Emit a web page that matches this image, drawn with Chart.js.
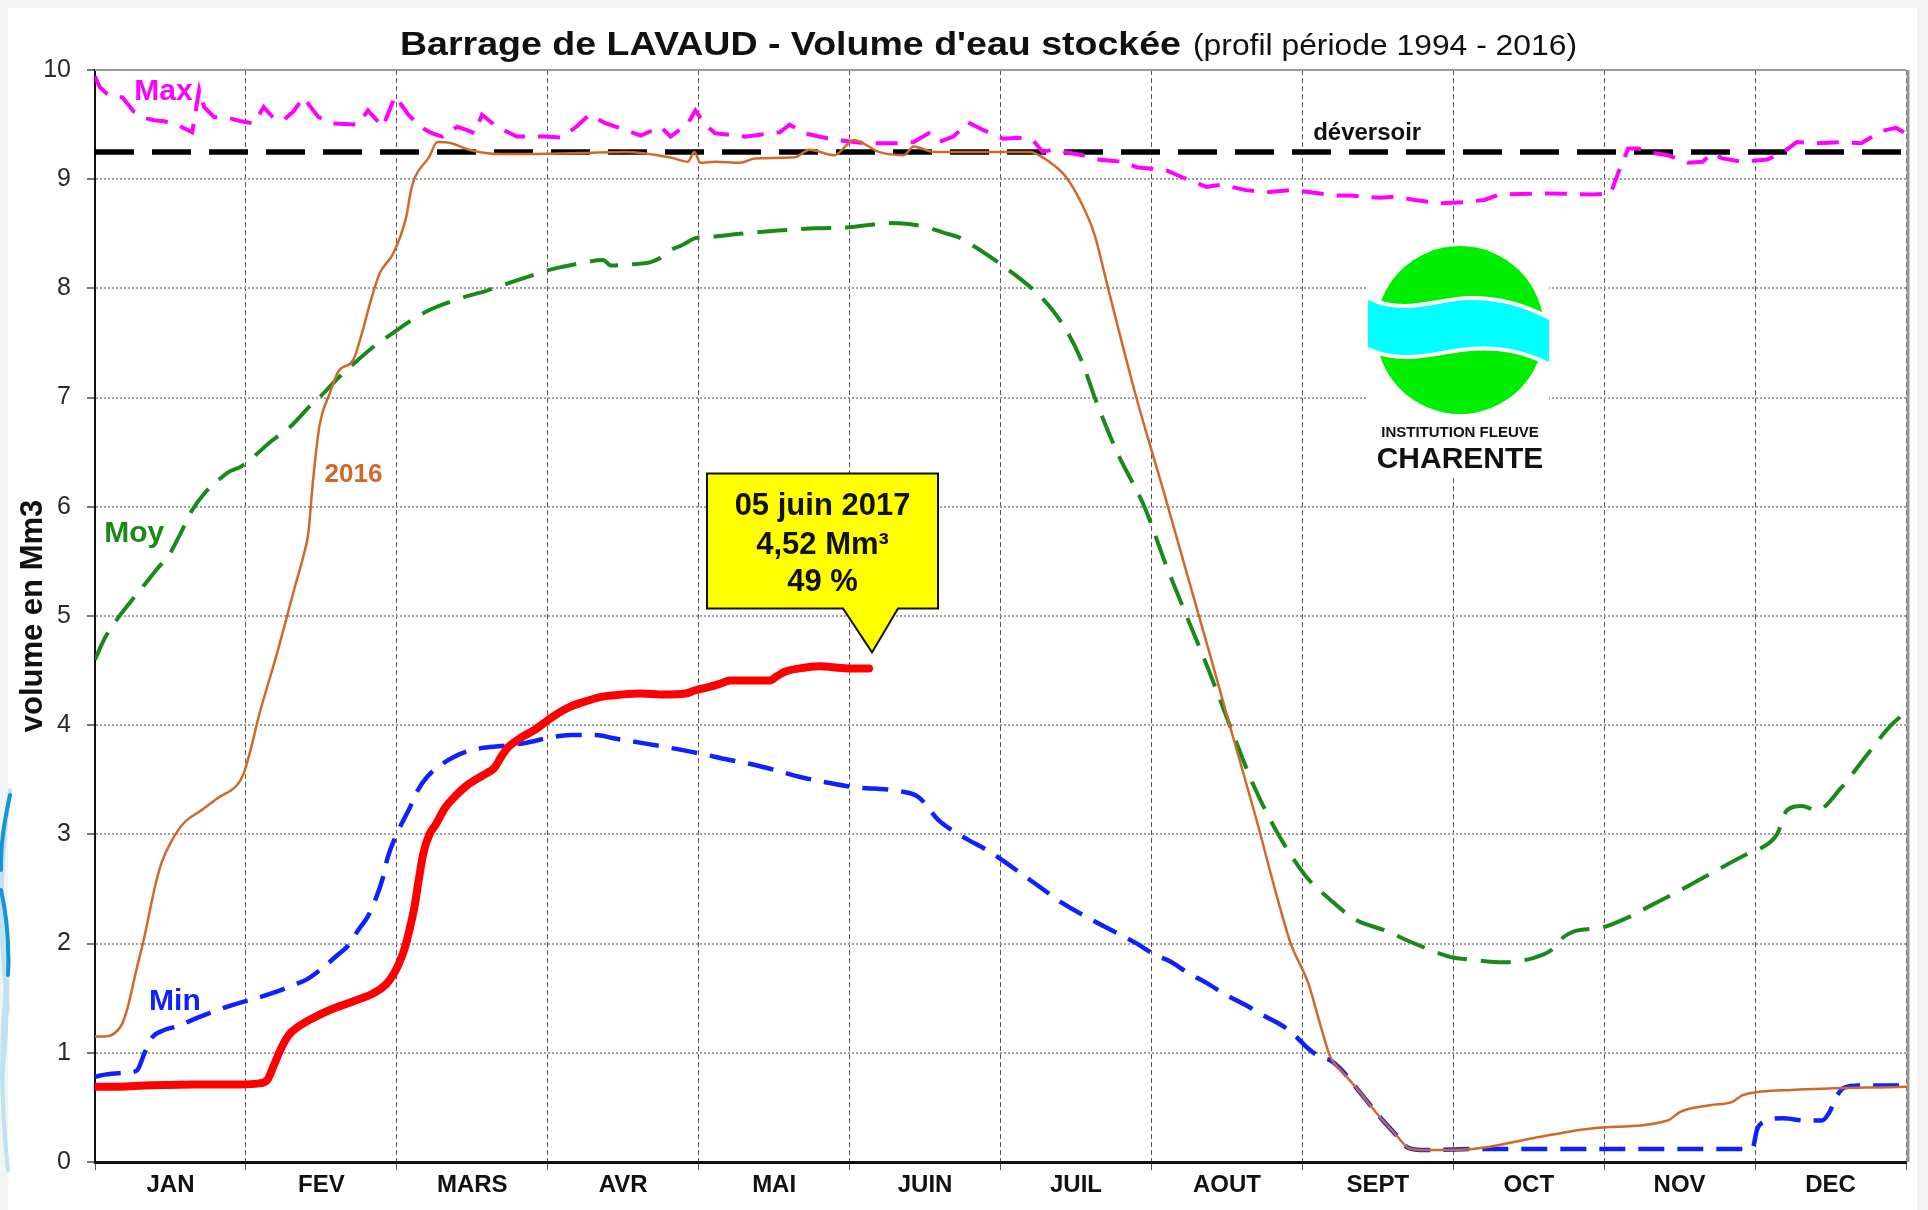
<!DOCTYPE html>
<html lang="fr">
<head>
<meta charset="utf-8">
<title>Barrage de LAVAUD - Volume d'eau stockée</title>
<script src="https://cdn.jsdelivr.net/npm/chart.js@4.4.1/dist/chart.umd.min.js"></script>
<style>
  html, body { margin: 0; padding: 0; background: #f3f3f3; }
  canvas { display: block; }
</style>
</head>
<body>
<canvas id="volumeChart" width="1928" height="1210"></canvas>
<script>
// x = position in the year (0..365, months of equal width), y = volume in Mm3
const months = ['JAN', 'FEV', 'MARS', 'AVR', 'MAI', 'JUIN', 'JUIL', 'AOUT', 'SEPT', 'OCT', 'NOV', 'DEC'];
const yTicks = [0, 1, 2, 3, 4, 5, 6, 7, 8, 9, 10];
const deversoir = 9.25;

const maxProfile = [[0,9.94],[1,9.84],[2.5,9.78],[4,9.75],[5.5,9.75],[7.8,9.62],[10,9.56],[12,9.54],[14,9.53],[16.5,9.5],
  [19.6,9.43],[21,9.82],[22,9.66],[24,9.57],[27,9.56],[29.5,9.53],[32,9.51],[34,9.66],[36,9.56],[38,9.54],
  [40,9.62],[42,9.75],[45,9.57],[48,9.51],[53,9.5],[55,9.63],[58,9.48],[60.5,9.76],[63,9.6],[65.5,9.48],
  [68,9.42],[70,9.39],[73,9.48],[75,9.45],[76.5,9.42],[78,9.59],[81,9.48],[85,9.39],[91,9.39],[94,9.38],
  [97,9.48],[99.6,9.59],[103,9.51],[107,9.45],[110,9.4],[114,9.48],[116,9.39],[119.5,9.51],[121,9.63],[123,9.5],
  [125,9.42],[131,9.39],[138,9.43],[140,9.5],[143,9.42],[149,9.36],[155,9.33],[162,9.33],[165,9.34],[168,9.42],
  [170,9.34],[173,9.39],[176,9.52],[179,9.45],[183,9.37],[186,9.38],[189,9.36],[191,9.25],[193,9.27],[199,9.22],
  [202,9.18],[207,9.16],[210,9.11],[216,9.08],[219,9.02],[224,8.93],[227,8.95],[232,8.9],[236,8.88],[241,8.9],
  [245,8.88],[250,8.85],[253,8.85],[259,8.83],[262,8.84],[266,8.81],[271,8.78],[276,8.79],[280,8.81],[283,8.86],
  [293,8.87],[302,8.86],[305.5,8.87],[307,9.06],[309,9.28],[311,9.28],[314,9.24],[317,9.22],[321,9.15],[324,9.16],
  [326,9.24],[328,9.19],[332,9.16],[337,9.18],[340,9.24],[343,9.34],[347,9.33],[352,9.34],[356,9.33],[360,9.44],
  [363,9.47],[365,9.42]];

const moyProfile = [[0,4.6],[2,4.8],[4.3,4.96],[7,5.12],[9.7,5.27],[12.5,5.43],[15.2,5.58],[17.5,5.78],[19.6,5.97],[22,6.12],
  [25,6.25],[27,6.32],[29.5,6.37],[32,6.46],[35.5,6.6],[39.3,6.73],[43.9,6.95],[45.2,7.0],[49,7.18],[52.9,7.34],
  [56.5,7.48],[60,7.59],[63.5,7.7],[67.3,7.8],[70.5,7.86],[74.4,7.92],[79,7.98],[83.5,8.05],[87.5,8.11],[91.6,8.17],
  [94.5,8.2],[97.8,8.23],[102.4,8.26],[104,8.21],[108,8.22],[112,8.24],[114,8.28],[116,8.35],[118.5,8.4],[121,8.46],
  [123.5,8.47],[130,8.5],[137.7,8.53],[145,8.55],[152,8.56],[156,8.58],[160,8.6],[164,8.59],[167.7,8.56],[171,8.51],
  [174,8.47],[177,8.39],[180.4,8.29],[183.5,8.19],[186.7,8.08],[190,7.95],[193,7.8],[196,7.6],[199,7.32],[201.5,7.0],
  [206,6.5],[211.5,6.0],[216,5.45],[220,5.0],[224.5,4.5],[228.7,4.0],[233.5,3.45],[238.5,3.0],[244,2.62],[249,2.4],
  [254,2.22],[260,2.12],[266,2.0],[273,1.88],[278,1.85],[284,1.83],[290,1.87],[293.5,1.94],[296,2.06],[298,2.11],
  [304,2.15],[309,2.24],[313.6,2.35],[320,2.5],[326,2.65],[333,2.82],[336,2.88],[339,3.0],[341,3.22],[344,3.26],
  [347,3.22],[352,3.43],[357,3.72],[362,4.0],[365,4.12]];

const minProfile = [[0,0.78],[2,0.8],[6.6,0.82],[8.5,0.84],[10,1.0],[11.7,1.15],[13.5,1.2],[17,1.25],[20.6,1.32],[24.6,1.39],
  [29.3,1.46],[31,1.48],[36,1.55],[40,1.62],[42.6,1.67],[45.4,1.76],[49,1.9],[51,1.98],[53,2.12],[55,2.25],
  [56.5,2.4],[58,2.6],[59,2.79],[61.2,3.04],[63.5,3.25],[65,3.4],[67,3.53],[69.5,3.63],[72.4,3.71],[75,3.76],
  [77.8,3.79],[82,3.81],[87,3.84],[91,3.88],[95.8,3.91],[101,3.91],[104.5,3.88],[108.5,3.85],[115,3.8],[122,3.74],
  [127,3.69],[132.6,3.64],[137,3.59],[141.7,3.53],[147,3.48],[153.4,3.43],[157,3.42],[161.5,3.4],[166,3.34],[170,3.13],
  [173,3.03],[176,2.95],[180,2.85],[183,2.76],[187,2.63],[191,2.5],[195,2.37],[200,2.24],[205,2.12],[210,2.0],
  [213.5,1.9],[217,1.83],[220,1.74],[224,1.64],[228,1.53],[232.6,1.42],[236,1.33],[239.6,1.24],[242,1.15],[244.5,1.04],
  [247,0.96],[249,0.93],[251.5,0.83],[254,0.69],[256.5,0.55],[259,0.41],[262,0.26],[264.7,0.13],[268,0.11],[280,0.12],
  [300,0.12],[320,0.12],[334,0.12],[335,0.3],[336,0.36],[340,0.4],[345,0.38],[348,0.38],[349.5,0.45],[351,0.6],
  [352.5,0.68],[356,0.7],[365,0.7]];

const year2016 = [[0,1.15],[2,1.15],[5.3,1.25],[6.5,1.4],[7.3,1.55],[8.5,1.79],[9.8,2.03],[11.5,2.4],[12.4,2.58],[13.5,2.75],
  [15.2,2.92],[17.8,3.1],[21.4,3.22],[25,3.34],[28.6,3.45],[29.9,3.55],[31.5,3.8],[33,4.08],[36.7,4.66],[40.3,5.27],
  [42,5.55],[43,5.76],[43.9,6.22],[45.2,6.73],[47.4,7.05],[49.2,7.25],[52,7.34],[53.8,7.59],[55.6,7.89],[57.4,8.14],
  [60.1,8.32],[62.7,8.65],[63.7,8.9],[64.5,9.02],[67.3,9.2],[69,9.34],[71.8,9.33],[75.4,9.27],[81.7,9.23],[97.8,9.24],
  [106.8,9.25],[115.9,9.2],[119.5,9.16],[120.8,9.25],[122,9.15],[125,9.16],[130,9.15],[133,9.19],[141,9.2],[144,9.27],
  [149,9.22],[153,9.36],[158,9.25],[163,9.22],[165,9.3],[169,9.25],[179,9.25],[188.5,9.25],[191,9.2],[193.5,9.12],
  [195.7,9.02],[198.6,8.8],[201.4,8.5],[204.3,7.98],[210,6.98],[215,6.2],[220,5.4],[225,4.6],[229,3.95],[234,3.15],
  [238.4,2.4],[241,2.0],[244.5,1.64],[247,1.25],[249,0.96],[251.5,0.82],[254,0.69],[259,0.41],[262,0.26],[264.7,0.13],
  [268,0.11],[277.8,0.12],[290,0.22],[302,0.31],[317,0.38],[319.5,0.46],[325.5,0.52],[330,0.55],[332,0.61],[335,0.64],
  [342,0.66],[365,0.69]];

const year2017 = [[0,0.69],[5,0.69],[10,0.7],[20,0.71],[29.3,0.71],[33,0.72],[34.7,0.75],[36,0.88],[37.4,1.03],[39,1.16],
  [41,1.24],[44,1.32],[47.2,1.39],[52,1.47],[56.3,1.55],[58.5,1.62],[59.9,1.7],[61.3,1.82],[62.5,1.97],[63.5,2.15],
  [64.4,2.34],[65.3,2.6],[66.2,2.83],[67.4,3.0],[68.8,3.1],[70.5,3.24],[72.4,3.34],[75,3.45],[77.8,3.53],[79.3,3.57],
  [80.5,3.61],[82,3.72],[83.3,3.8],[86,3.89],[88.7,3.96],[92,4.07],[95.8,4.17],[99,4.22],[102,4.26],[106,4.28],
  [110,4.29],[114.7,4.28],[119,4.29],[121,4.32],[123.8,4.35],[126,4.38],[128,4.41],[136,4.41],[137.5,4.45],[139,4.49],
  [142,4.52],[146,4.54],[151.6,4.52],[156,4.52]];

const lastDate = '05 juin 2017';

// series names placed on the plot, in data units
const seriesLabels = [
  { text: 'Max', x: 13.8, y: 9.725, color: '#ff00ff', size: 30 },
  { text: 'Moy', x: 7.9, y: 5.68, color: '#198a19', size: 30 },
  { text: '2016', x: 52.1, y: 6.23, color: '#cd6a2a', size: 26 },
  { text: 'Min', x: 16.1, y: 1.39, color: '#1020ff', size: 30 },
  { text: 'déversoir', x: 256.4, y: 9.36, color: '#111111', size: 24 }
];

const FONT = '"Liberation Sans", Arial, Helvetica, sans-serif';
const monthW = 365 / 12;
const xTickVals = [];
for (let i = 0; i <= 24; i++) xTickVals.push(i * monthW / 2);

const pts = arr => arr.map(p => ({ x: p[0], y: p[1] }));

function stretchText(ctx, text, x, y, targetW) {
    const w = ctx.measureText(text).width;
    ctx.save();
    ctx.translate(x, y);
    ctx.scale(targetW / w, 1);
    ctx.fillText(text, 0, 0);
    ctx.restore();
}

// page background, white sheet and the blue ribbon on the left edge
const framePlugin = {
    id: 'frame',
    beforeDraw(chart) {
        const { ctx, width, height } = chart;
        ctx.save();
        ctx.fillStyle = '#f3f3f3';
        ctx.fillRect(0, 0, width, height);
        ctx.fillStyle = '#ffffff';
        ctx.fillRect(8, 8, 1909, height - 8);

        ctx.beginPath();
        ctx.rect(0, 770, 12, 420);
        ctx.clip();
        ctx.lineCap = 'round';
        ctx.strokeStyle = '#bfe2f2';
        ctx.lineWidth = 4;
        [[10, 790, -6, 900, 8, 1010], [0, 880, 14, 960, 2, 1080], [9, 960, -4, 1060, 8, 1170]].forEach(c => {
            ctx.beginPath();
            ctx.moveTo(c[0], c[1]);
            ctx.quadraticCurveTo(c[2], c[3], c[4], c[5]);
            ctx.stroke();
        });
        ctx.strokeStyle = '#1496d4';
        ctx.lineWidth = 4;
        [[10, 795, 0, 840, 1, 870], [1, 890, 10, 930, 8, 975]].forEach(c => {
            ctx.beginPath();
            ctx.moveTo(c[0], c[1]);
            ctx.quadraticCurveTo(c[2], c[3], c[4], c[5]);
            ctx.stroke();
        });
        ctx.restore();
    },
    afterDraw(chart) {
        const { ctx } = chart;
        ctx.save();
        ctx.fillStyle = '#111';
        ctx.textBaseline = 'alphabetic';
        ctx.textAlign = 'left';
        ctx.font = 'bold 33px ' + FONT;
        stretchText(ctx, 'Barrage de LAVAUD - Volume d\'eau stockée', 400, 55, 781);
        ctx.font = '29px ' + FONT;
        stretchText(ctx, '(profil période 1994 - 2016)', 1193, 55, 384);
        ctx.restore();
    }
};

// top / right border of the plot and the logo
const plotDecor = {
    id: 'plotDecor',
    beforeDatasetsDraw(chart) {
        const { ctx, chartArea: a } = chart;
        ctx.save();
        ctx.strokeStyle = '#9a9a9a';
        ctx.lineWidth = 2;
        ctx.beginPath();
        ctx.moveTo(a.left, a.top);
        ctx.lineTo(a.right, a.top);
        ctx.stroke();
        ctx.lineWidth = 3;
        ctx.beginPath();
        ctx.moveTo(a.right + 2, a.top);
        ctx.lineTo(a.right + 2, a.bottom);
        ctx.stroke();

        // Institution Fleuve Charente logo
        const cx = 1460, cy = 330;
        ctx.fillStyle = '#ffffff';
        ctx.fillRect(1368, 245, 181, 232);
        ctx.fillStyle = '#00ee00';
        ctx.beginPath();
        ctx.arc(cx, cy, 84, 0, Math.PI * 2);
        ctx.fill();
        ctx.beginPath();
        ctx.moveTo(1368, 300);
        ctx.bezierCurveTo(1405, 318, 1440, 300, 1470, 300);
        ctx.bezierCurveTo(1500, 300, 1522, 306, 1549, 320);
        ctx.lineTo(1549, 362);
        ctx.bezierCurveTo(1522, 349, 1500, 345, 1470, 347);
        ctx.bezierCurveTo(1440, 349, 1405, 364, 1368, 347);
        ctx.closePath();
        ctx.strokeStyle = '#ffffff';
        ctx.lineWidth = 8;
        ctx.stroke();
        ctx.fillStyle = '#00ffff';
        ctx.fill();
        ctx.fillStyle = '#111';
        ctx.textAlign = 'center';
        ctx.textBaseline = 'alphabetic';
        ctx.font = 'bold 15px ' + FONT;
        ctx.fillText('INSTITUTION FLEUVE', cx, 437);
        ctx.font = 'bold 30px ' + FONT;
        ctx.fillText('CHARENTE', cx, 468);
        ctx.restore();
    }
};

// series names and the yellow callout on the last 2017 value
const annotations = {
    id: 'annotations',
    afterDatasetsDraw(chart) {
        const { ctx, scales } = chart;
        ctx.save();
        ctx.textAlign = 'center';
        ctx.textBaseline = 'alphabetic';
        seriesLabels.forEach(l => {
            ctx.font = 'bold ' + l.size + 'px ' + FONT;
            ctx.fillStyle = l.color;
            ctx.fillText(l.text, scales.x.getPixelForValue(l.x), scales.y.getPixelForValue(l.y));
        });

        const meta = chart.getDatasetMeta(0);
        const last = meta.data[meta.data.length - 1];
        const lastValue = year2017[year2017.length - 1][1];
        const tipX = last.x + 3, tipY = last.y - 16;
        const L = tipX - 165, R = tipX + 66, T = tipY - 179, B = tipY - 44;
        ctx.beginPath();
        ctx.moveTo(L, T);
        ctx.lineTo(R, T);
        ctx.lineTo(R, B);
        ctx.lineTo(tipX + 26, B);
        ctx.lineTo(tipX, tipY);
        ctx.lineTo(tipX - 29, B);
        ctx.lineTo(L, B);
        ctx.closePath();
        ctx.fillStyle = '#ffff00';
        ctx.fill();
        ctx.strokeStyle = '#111';
        ctx.lineWidth = 2;
        ctx.stroke();
        ctx.fillStyle = '#111';
        ctx.font = 'bold 31px ' + FONT;
        const mid = (L + R) / 2;
        ctx.fillText(lastDate, mid, T + 42);
        ctx.fillText(lastValue.toFixed(2).replace('.', ',') + ' Mm³', mid, T + 81);
        ctx.fillText(Math.round(lastValue / deversoir * 100) + ' %', mid, T + 118);
        ctx.restore();
    }
};

const isBoundary = ctx => ctx.index % 2 === 0;

new Chart(document.getElementById('volumeChart'), {
    type: 'line',
    data: {
        datasets: [
            { label: '2017', data: pts(year2017), borderColor: '#ff0000', borderWidth: 8,
              cubicInterpolationMode: 'monotone', borderCapStyle: 'round', borderJoinStyle: 'round' },
            { label: '2016', data: pts(year2016), borderColor: '#cd6a2a', borderWidth: 2.5,
              cubicInterpolationMode: 'monotone' },
            { label: 'Min', data: pts(minProfile), borderColor: '#1020ff', borderWidth: 4.5,
              borderDash: [26, 13], cubicInterpolationMode: 'monotone' },
            { label: 'Moy', data: pts(moyProfile), borderColor: '#198a19', borderWidth: 4,
              borderDash: [30, 14], cubicInterpolationMode: 'monotone' },
            { label: 'Max', data: pts(maxProfile), borderColor: '#ff00ff', borderWidth: 4,
              borderDash: [22, 13] },
            { label: 'déversoir', data: [{ x: 0, y: deversoir }, { x: 365, y: deversoir }],
              borderColor: '#000000', borderWidth: 5.5, borderDash: [39, 18] }
        ]
    },
    options: {
        responsive: false,
        animation: false,
        layout: { padding: { left: 8, top: 70, right: 22, bottom: 0 } },
        elements: { point: { radius: 0 }, line: { tension: 0 } },
        plugins: { legend: { display: false }, tooltip: { enabled: false }, title: { display: false } },
        scales: {
            x: {
                type: 'linear',
                min: 0,
                max: 365,
                afterBuildTicks: axis => { axis.ticks = xTickVals.map(v => ({ value: v })); },
                afterFit: axis => { axis.height = 48; },
                ticks: {
                    autoSkip: false,
                    maxRotation: 0,
                    padding: 1,
                    color: '#111',
                    font: { family: FONT, size: 24, weight: 'bold' },
                    callback: (v, i) => (i % 2 === 1 ? months[(i - 1) / 2] : '')
                },
                grid: {
                    color: ctx => (isBoundary(ctx) ? '#5a5a5a' : 'rgba(0,0,0,0)'),
                    tickColor: ctx => (isBoundary(ctx) ? '#555' : 'rgba(0,0,0,0)'),
                    lineWidth: 1,
                    tickLength: 8,
                    borderDash: [5, 3]
                },
                border: { color: '#111', width: 3, dash: [5, 3] }
            },
            y: {
                min: 0,
                max: 10,
                afterBuildTicks: axis => { axis.ticks = yTicks.map(v => ({ value: v })); },
                afterFit: axis => { axis.width = 87; },
                ticks: {
                    padding: 16,
                    color: '#2a2a2a',
                    font: { family: FONT, size: 25 }
                },
                grid: {
                    color: '#a0a0a0',
                    tickColor: '#777',
                    lineWidth: 2,
                    tickLength: 8,
                    borderDash: [2, 2]
                },
                border: { color: '#111', width: 2, dash: [2, 2] },
                title: {
                    display: true,
                    text: 'volume en Mm3',
                    color: '#111',
                    font: { family: FONT, size: 31, weight: 'bold' },
                    padding: { top: 7, bottom: 0 }
                }
            }
        }
    },
    plugins: [framePlugin, plotDecor, annotations]
});
</script>
</body>
</html>
